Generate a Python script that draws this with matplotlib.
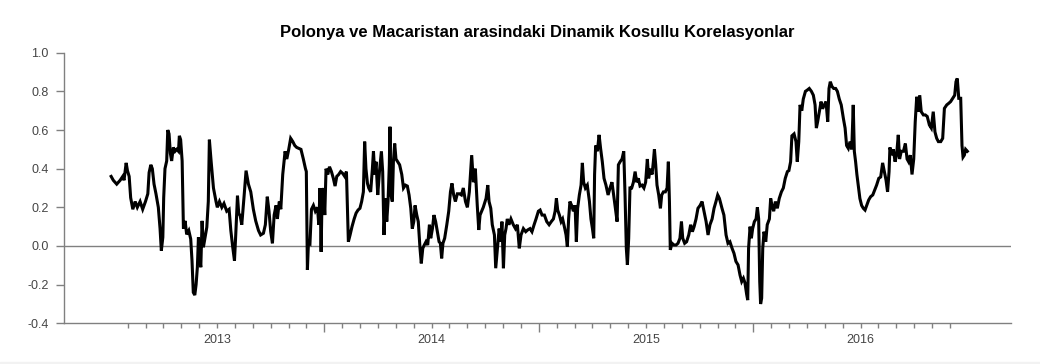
import matplotlib
matplotlib.use("Agg")
import matplotlib.pyplot as plt
import numpy as np
from matplotlib.patches import Rectangle

plt.rcParams['font.family'] = ['Liberation Sans', 'DejaVu Sans']

title = "Polonya ve Macaristan arasindaki Dinamik Kosullu Korelasyonlar"
year_labels = ["2013", "2014", "2015", "2016"]
base_year = 2013

# time in years since 1 Jan 2013
t_2013 = [0.006, 0.016, 0.032, 0.048, 0.060, 0.066, 0.076, 0.082, 0.090, 0.097,
          0.107, 0.118, 0.128, 0.141, 0.153, 0.166, 0.177, 0.183, 0.191, 0.198,
          0.206, 0.215, 0.226, 0.234, 0.240, 0.247, 0.251, 0.257, 0.265, 0.270,
          0.276, 0.282, 0.288, 0.296, 0.304, 0.312, 0.320, 0.324, 0.330, 0.337,
          0.343, 0.351, 0.358, 0.368, 0.377, 0.383, 0.389, 0.396, 0.402, 0.408,
          0.413, 0.417, 0.424, 0.430, 0.436, 0.444, 0.452, 0.459, 0.464, 0.472,
          0.483, 0.495, 0.501, 0.511, 0.522, 0.532, 0.545, 0.556, 0.564, 0.573,
          0.581, 0.587, 0.595, 0.601, 0.607, 0.615, 0.626, 0.635, 0.646, 0.657,
          0.669, 0.680, 0.693, 0.703, 0.716, 0.725, 0.734, 0.742, 0.750, 0.758,
          0.766, 0.775, 0.781, 0.790, 0.797, 0.806, 0.817, 0.825, 0.834, 0.843,
          0.853, 0.862, 0.871, 0.881, 0.891, 0.902, 0.912, 0.916, 0.921, 0.926,
          0.933, 0.940, 0.949, 0.958, 0.968, 0.974, 0.980, 0.985, 0.989, 0.996]
rho_2013 = [0.36, 0.34, 0.32, 0.34, 0.36, 0.34, 0.43, 0.39, 0.36, 0.25,
            0.19, 0.23, 0.20, 0.23, 0.19, 0.23, 0.27, 0.38, 0.42, 0.40,
            0.32, 0.27, 0.20, 0.09, -0.024, 0.045, 0.25, 0.40, 0.44, 0.60,
            0.58, 0.48, 0.44, 0.51, 0.49, 0.50, 0.49, 0.57, 0.55, 0.44,
            0.09, 0.13, 0.06, 0.08, 0.036, -0.076, -0.24, -0.254, -0.20, -0.11,
            0.045, -0.04, -0.11, 0.13, -0.007, 0.045, 0.097, 0.23, 0.55, 0.44,
            0.30, 0.23, 0.20, 0.23, 0.20, 0.22, 0.18, 0.19, 0.08, -0.007,
            -0.076, 0.06, 0.26, 0.166, 0.16, 0.11, 0.26, 0.39, 0.32, 0.28,
            0.19, 0.13, 0.08, 0.057, 0.066, 0.11, 0.255, 0.18, 0.074, 0.014,
            0.16, 0.21, 0.14, 0.23, 0.19, 0.37, 0.49, 0.45, 0.50, 0.557,
            0.54, 0.52, 0.51, 0.505, 0.50, 0.45, 0.40, 0.385, -0.124, 0.022,
            0.014, 0.19, 0.21, 0.18, 0.20, 0.11, 0.30, -0.03, 0.23, 0.30]

t_2014 = [1.002, 1.008, 1.016, 1.024, 1.033, 1.042, 1.050, 1.058, 1.067, 1.076,
          1.086, 1.095, 1.103, 1.107, 1.112, 1.120, 1.129, 1.139, 1.148, 1.157,
          1.166, 1.174, 1.182, 1.188, 1.194, 1.201, 1.207, 1.216, 1.224, 1.229,
          1.235, 1.241, 1.249, 1.257, 1.266, 1.272, 1.278, 1.285, 1.291, 1.297,
          1.303, 1.306, 1.311, 1.317, 1.322, 1.328, 1.334, 1.342, 1.351, 1.361,
          1.369, 1.378, 1.387, 1.395, 1.403, 1.410, 1.417, 1.423, 1.431, 1.438,
          1.446, 1.452, 1.459, 1.466, 1.474, 1.482, 1.490, 1.496, 1.504, 1.511,
          1.519, 1.527, 1.535, 1.541, 1.547, 1.553, 1.561, 1.571, 1.580, 1.588,
          1.595, 1.603, 1.611, 1.620, 1.630, 1.639, 1.648, 1.658, 1.667, 1.676,
          1.687, 1.695, 1.704, 1.713, 1.720, 1.726, 1.741, 1.754, 1.762, 1.768,
          1.776, 1.783, 1.793, 1.799, 1.807, 1.815, 1.822, 1.828, 1.835, 1.841,
          1.847, 1.853, 1.861, 1.870, 1.881, 1.891, 1.900, 1.909, 1.917, 1.928,
          1.939, 1.948, 1.959, 1.968, 1.978, 1.987, 1.998]
rho_2014 = [0.16, 0.40, 0.37, 0.41, 0.385, 0.35, 0.31, 0.36, 0.37, 0.385,
            0.375, 0.36, 0.385, 0.23, 0.022, 0.057, 0.10, 0.14, 0.17, 0.186,
            0.195, 0.23, 0.28, 0.54, 0.40, 0.324, 0.30, 0.28, 0.40, 0.49,
            0.37, 0.436, 0.264, 0.385, 0.49, 0.385, 0.057, 0.246, 0.126, 0.23,
            0.42, 0.617, 0.264, 0.23, 0.436, 0.53, 0.45, 0.436, 0.42, 0.37,
            0.30, 0.315, 0.31, 0.264, 0.195, 0.09, 0.126, 0.21, 0.16, 0.126,
            -0.012, -0.09, -0.012, 0.005, 0.022, 0.005, 0.11, 0.04, 0.09, 0.16,
            0.126, 0.074, 0.022, 0.014, -0.064, 0.014, 0.04, 0.11, 0.18, 0.28,
            0.324, 0.264, 0.23, 0.27, 0.27, 0.264, 0.30, 0.23, 0.20, 0.28,
            0.47, 0.33, 0.40, 0.21, 0.083, 0.16, 0.20, 0.246, 0.315, 0.23,
            0.195, 0.11, 0.057, -0.115, -0.012, 0.09, 0.022, 0.126, -0.115, 0.057,
            0.09, 0.14, 0.11, 0.14, 0.11, 0.09, 0.11, -0.012, 0.057, 0.09,
            0.074, 0.083, 0.09, 0.074, 0.11, 0.14, 0.18]

t_2015 = [2.006, 2.015, 2.026, 2.037, 2.048, 2.058, 2.068, 2.076, 2.082, 2.088,
          2.096, 2.104, 2.111, 2.121, 2.127, 2.133, 2.139, 2.145, 2.153, 2.161,
          2.169, 2.175, 2.181, 2.189, 2.197, 2.203, 2.209, 2.217, 2.226, 2.236,
          2.243, 2.250, 2.256, 2.260, 2.265, 2.273, 2.281, 2.288, 2.296, 2.304,
          2.313, 2.323, 2.332, 2.341, 2.349, 2.357, 2.365, 2.371, 2.379, 2.388,
          2.396, 2.402, 2.408, 2.413, 2.419, 2.425, 2.433, 2.441, 2.449, 2.456,
          2.464, 2.472, 2.481, 2.490, 2.498, 2.506, 2.512, 2.520, 2.528, 2.534,
          2.539, 2.545, 2.551, 2.559, 2.567, 2.573, 2.581, 2.590, 2.598, 2.604,
          2.609, 2.613, 2.621, 2.630, 2.640, 2.649, 2.658, 2.665, 2.671, 2.680,
          2.689, 2.699, 2.708, 2.716, 2.724, 2.733, 2.742, 2.752, 2.761, 2.770,
          2.780, 2.789, 2.798, 2.808, 2.817, 2.826, 2.834, 2.842, 2.854, 2.863,
          2.873, 2.882, 2.891, 2.901, 2.910, 2.919, 2.929, 2.938, 2.946, 2.954,
          2.961, 2.969, 2.974, 2.978, 2.985, 2.991, 2.997]
rho_2015 = [0.186, 0.16, 0.16, 0.126, 0.11, 0.126, 0.14, 0.18, 0.246, 0.186,
            0.16, 0.126, 0.14, 0.09, 0.057, -0.003, 0.14, 0.23, 0.21, 0.18,
            0.21, 0.022, 0.195, 0.264, 0.315, 0.43, 0.33, 0.30, 0.315, 0.23,
            0.14, 0.09, 0.04, 0.37, 0.52, 0.49, 0.575, 0.505, 0.436, 0.35,
            0.315, 0.264, 0.30, 0.33, 0.264, 0.195, 0.126, 0.42, 0.436, 0.45,
            0.49, 0.264, -0.012, -0.098, 0.04, 0.30, 0.30, 0.33, 0.385, 0.33,
            0.35, 0.31, 0.315, 0.30, 0.33, 0.45, 0.35, 0.40, 0.37, 0.436,
            0.50, 0.42, 0.315, 0.264, 0.195, 0.264, 0.28, 0.28, 0.30, 0.436,
            0.23, -0.02, 0.014, 0.005, 0.005, 0.014, 0.04, 0.126, 0.04, 0.014,
            0.022, 0.057, 0.11, 0.074, 0.10, 0.14, 0.195, 0.21, 0.23, 0.18,
            0.126, 0.057, 0.11, 0.14, 0.195, 0.23, 0.264, 0.246, 0.195, 0.16,
            0.057, 0.014, 0.022, -0.012, -0.038, -0.08, -0.098, -0.15, -0.184, -0.167,
            -0.19, -0.25, -0.28, -0.012, 0.10, 0.04, 0.09]

t_2016 = [3.005, 3.013, 3.019, 3.025, 3.030, 3.034, 3.039, 3.044, 3.050, 3.058,
          3.065, 3.075, 3.081, 3.087, 3.095, 3.103, 3.112, 3.121, 3.131, 3.140,
          3.149, 3.159, 3.166, 3.174, 3.180, 3.190, 3.199, 3.205, 3.212, 3.218,
          3.226, 3.233, 3.243, 3.252, 3.261, 3.271, 3.280, 3.288, 3.294, 3.300,
          3.308, 3.316, 3.323, 3.331, 3.339, 3.347, 3.353, 3.359, 3.367, 3.375,
          3.384, 3.392, 3.401, 3.410, 3.420, 3.428, 3.435, 3.443, 3.451, 3.459,
          3.466, 3.471, 3.477, 3.483, 3.491, 3.497, 3.505, 3.513, 3.521, 3.529,
          3.538, 3.547, 3.557, 3.566, 3.575, 3.585, 3.594, 3.603, 3.611, 3.619,
          3.626, 3.633, 3.637, 3.645, 3.653, 3.661, 3.668, 3.676, 3.682, 3.690,
          3.700, 3.709, 3.717, 3.724, 3.732, 3.740, 3.748, 3.755, 3.762, 3.768,
          3.776, 3.783, 3.793, 3.802, 3.811, 3.821, 3.830, 3.839, 3.847, 3.855,
          3.863, 3.874, 3.883, 3.891, 3.902, 3.911, 3.920, 3.930, 3.939, 3.945,
          3.951, 3.958, 3.967, 3.973, 3.978, 3.984, 3.990, 3.998]
rho_2016 = [0.126, 0.14, 0.20, 0.14, -0.184, -0.30, -0.27, -0.012, 0.074, 0.022,
            0.11, 0.14, 0.246, 0.21, 0.18, 0.23, 0.195, 0.246, 0.28, 0.30,
            0.35, 0.385, 0.39, 0.436, 0.57, 0.58, 0.54, 0.436, 0.54, 0.73,
            0.70, 0.76, 0.80, 0.807, 0.815, 0.80, 0.78, 0.73, 0.61, 0.643,
            0.695, 0.747, 0.71, 0.73, 0.747, 0.643, 0.815, 0.85, 0.825, 0.815,
            0.815, 0.80, 0.76, 0.73, 0.66, 0.61, 0.52, 0.505, 0.54, 0.50,
            0.73, 0.49, 0.436, 0.37, 0.30, 0.246, 0.21, 0.195, 0.186, 0.21,
            0.238, 0.255, 0.264, 0.29, 0.315, 0.35, 0.357, 0.43, 0.385, 0.34,
            0.28, 0.385, 0.51, 0.47, 0.50, 0.436, 0.47, 0.575, 0.45, 0.49,
            0.49, 0.53, 0.45, 0.436, 0.47, 0.37, 0.45, 0.643, 0.772, 0.695,
            0.78, 0.695, 0.678, 0.678, 0.67, 0.626, 0.61, 0.695, 0.59, 0.557,
            0.54, 0.54, 0.557, 0.712, 0.73, 0.738, 0.747, 0.764, 0.78, 0.85,
            0.867, 0.764, 0.764, 0.52, 0.46, 0.47, 0.50, 0.49]

t = base_year + np.array(t_2013 + t_2014 + t_2015 + t_2016)
rho = np.array(rho_2013 + rho_2014 + rho_2015 + rho_2016)

grey = "#808080"
fig = plt.figure(figsize=(10.4, 3.64), dpi=100)
ax = fig.add_axes([0.0615, 0.1118, 0.9103, 0.7434])

ax.axhline(0, color=grey, lw=1.0, zorder=1)
ax.plot(t, rho, color="black", lw=2.2, solid_joinstyle="miter", zorder=2)

ax.set_xlim(2012.786, 2017.2)
ax.set_ylim(-0.4, 1.0)
ax.set_yticks(np.arange(-0.4, 1.01, 0.2))
ax.set_yticklabels([f"{v:.1f}" for v in np.arange(-0.4, 1.01, 0.2)])

# year boundaries as major ticks, months as minor ticks
months = [base_year + m / 12 for m in range(1, 48) if m % 12 != 0]
ax.set_xticks([2014, 2015, 2016])
ax.set_xticklabels([])
ax.set_xticks(months, minor=True)

for side in ("top", "right"):
    ax.spines[side].set_visible(False)
for side in ("left", "bottom"):
    ax.spines[side].set_color(grey)
    ax.spines[side].set_linewidth(1.0)

ax.tick_params(axis="y", colors=grey, labelcolor="#454545", labelsize=9,
               length=6, width=1.0, pad=5)
ax.tick_params(axis="x", which="major", colors=grey, length=6.5, width=1.0)
ax.tick_params(axis="x", which="minor", colors=grey, length=3.5, width=1.0)

# year names sit in the middle of each year
sec = ax.secondary_xaxis("bottom")
sec.set_xticks([base_year + i + 0.5 for i in range(len(year_labels))])
sec.set_xticklabels(year_labels)
sec.tick_params(length=0, labelsize=9, labelcolor="#454545", pad=8)
sec.spines["bottom"].set_visible(False)

ax.set_title(title, fontsize=12, fontweight="bold", pad=11)

fig.patches.append(Rectangle((0, 0), 1, 0.006, transform=fig.transFigure,
                             color="#f2f2f2", zorder=0))

fig.savefig("out.png", dpi=100)
